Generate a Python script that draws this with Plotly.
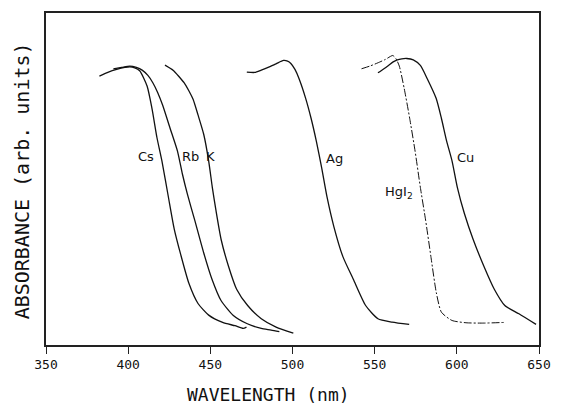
import plotly.graph_objects as go

# Wavelength (nm) and absorbance (arb. units)
cs_wl = [382.5, 388, 393, 398, 401, 404, 407, 411.5, 414.5, 417.5, 420.5, 424.5, 428, 432, 437, 442.5, 449, 457.5, 465, 470, 472]
cs_ab = [0.810, 0.822, 0.830, 0.836, 0.838, 0.835, 0.826, 0.780, 0.712, 0.625, 0.555, 0.445, 0.350, 0.272, 0.185, 0.125, 0.090, 0.068, 0.058, 0.050, 0.054]

rb_wl = [391, 396, 401, 405, 408.5, 412, 415, 418, 421, 425.5, 430, 433, 436, 440.5, 446, 451, 456.5, 464, 472.5, 481, 487, 492]
rb_ab = [0.832, 0.836, 0.840, 0.836, 0.828, 0.812, 0.790, 0.760, 0.722, 0.653, 0.584, 0.515, 0.455, 0.376, 0.277, 0.198, 0.134, 0.089, 0.064, 0.050, 0.045, 0.040]

k_wl = [422.4, 427.5, 431, 434, 437, 439.5, 442.5, 446, 449, 451.2, 453.4, 456.6, 461, 466, 472.7, 481, 490, 500.5]
k_ab = [0.843, 0.827, 0.808, 0.790, 0.765, 0.740, 0.693, 0.634, 0.554, 0.475, 0.406, 0.317, 0.238, 0.168, 0.119, 0.079, 0.054, 0.036]

ag_wl = [472.2, 477, 481, 485.5, 490, 494.5, 497, 499, 501.5, 504, 508, 511.3, 514.5, 517.7, 521, 525.2, 530.6, 537, 544.5, 552, 560.6, 571]
ag_ab = [0.822, 0.821, 0.828, 0.837, 0.847, 0.857, 0.855, 0.848, 0.830, 0.802, 0.743, 0.683, 0.614, 0.535, 0.446, 0.356, 0.267, 0.198, 0.119, 0.079, 0.069, 0.062]

hg_wl = [542, 547, 552, 556.5, 561, 563, 565, 568, 571.3, 574.6, 577.8, 581, 584.2, 587.5, 590.6, 597, 605.6, 616.4, 629]
hg_ab = [0.832, 0.840, 0.850, 0.860, 0.872, 0.862, 0.840, 0.772, 0.683, 0.584, 0.475, 0.376, 0.267, 0.158, 0.099, 0.074, 0.067, 0.066, 0.068]

cu_wl = [552, 555, 558.4, 561, 563.8, 566.5, 569.5, 573.5, 577.8, 582, 587.4, 590.6, 593.8, 597.1, 600.3, 604.6, 610, 616.4, 622.8, 629.2, 637.8, 648.2]
cu_ab = [0.820, 0.830, 0.842, 0.852, 0.859, 0.862, 0.863, 0.859, 0.842, 0.802, 0.743, 0.683, 0.614, 0.554, 0.475, 0.396, 0.317, 0.238, 0.168, 0.119, 0.094, 0.062]

series = [
    ("Cs", cs_wl, cs_ab, "solid"),
    ("Rb", rb_wl, rb_ab, "solid"),
    ("K", k_wl, k_ab, "solid"),
    ("Ag", ag_wl, ag_ab, "solid"),
    ("HgI2", hg_wl, hg_ab, "dashdot"),
    ("Cu", cu_wl, cu_ab, "solid"),
]

# Curve labels: text, wavelength, absorbance
label_text = ["Cs", "Rb", "K", "Ag", "HgI<sub>2</sub>", "Cu"]
label_wl = [410.8, 437.8, 450.4, 525.5, 565.0, 605.1]
label_ab = [0.569, 0.569, 0.569, 0.563, 0.458, 0.566]

x_ticks = [350, 400, 450, 500, 550, 600, 650]

fig = go.Figure()
for name, wl, ab, dash in series:
    fig.add_trace(go.Scatter(
        x=wl, y=ab, mode="lines", name=name,
        line=dict(color="#111111", width=1.0 if dash == "dashdot" else 1.3,
                  dash="8px,2px,2px,2px" if dash == "dashdot" else "solid",
                  shape="spline", smoothing=0.6),
        showlegend=False, hoverinfo="skip"))

for t, wl, ab in zip(label_text, label_wl, label_ab):
    fig.add_annotation(x=wl, y=ab, text=t, showarrow=False,
                       font=dict(family="DejaVu Sans", size=13, color="#111111"))

fig.add_annotation(xref="paper", yref="paper", x=(272 - 46) / 501, y=-(395 - 345) / 334,
                   text="WAVELENGTH (nm)", showarrow=False, yanchor="middle",
                   font=dict(family="DejaVu Sans Mono", size=18, color="#111111"))
fig.add_annotation(xref="paper", yref="paper", x=-(46 - 22) / 501, y=(345 - 180) / 334,
                   text="ABSORBANCE (arb. units)", showarrow=False, textangle=-90,
                   xanchor="center", yanchor="middle",
                   font=dict(family="DejaVu Sans Mono", size=20, color="#111111"))

fig.update_layout(
    width=562, height=405,
    margin=dict(l=46, r=15, t=11, b=60),
    paper_bgcolor="white", plot_bgcolor="white",
    xaxis=dict(range=[350, 650], tickvals=x_ticks, ticktext=[str(v) for v in x_ticks],
               showline=True, linecolor="#222222", linewidth=1.5, mirror=True,
               ticks="outside", ticklen=7, tickwidth=1.3, tickcolor="#222222",
               showgrid=False, zeroline=False,
               tickfont=dict(family="DejaVu Sans Mono", size=13, color="#111111")),
    yaxis=dict(range=[0, 1], showline=True, linecolor="#222222", linewidth=1.5, mirror=True,
               ticks="", showticklabels=False, showgrid=False, zeroline=False),
)

fig.write_html("out.html", config={"displayModeBar": False},
               post_script="document.body.style.margin='0';document.body.style.overflow='hidden';")
